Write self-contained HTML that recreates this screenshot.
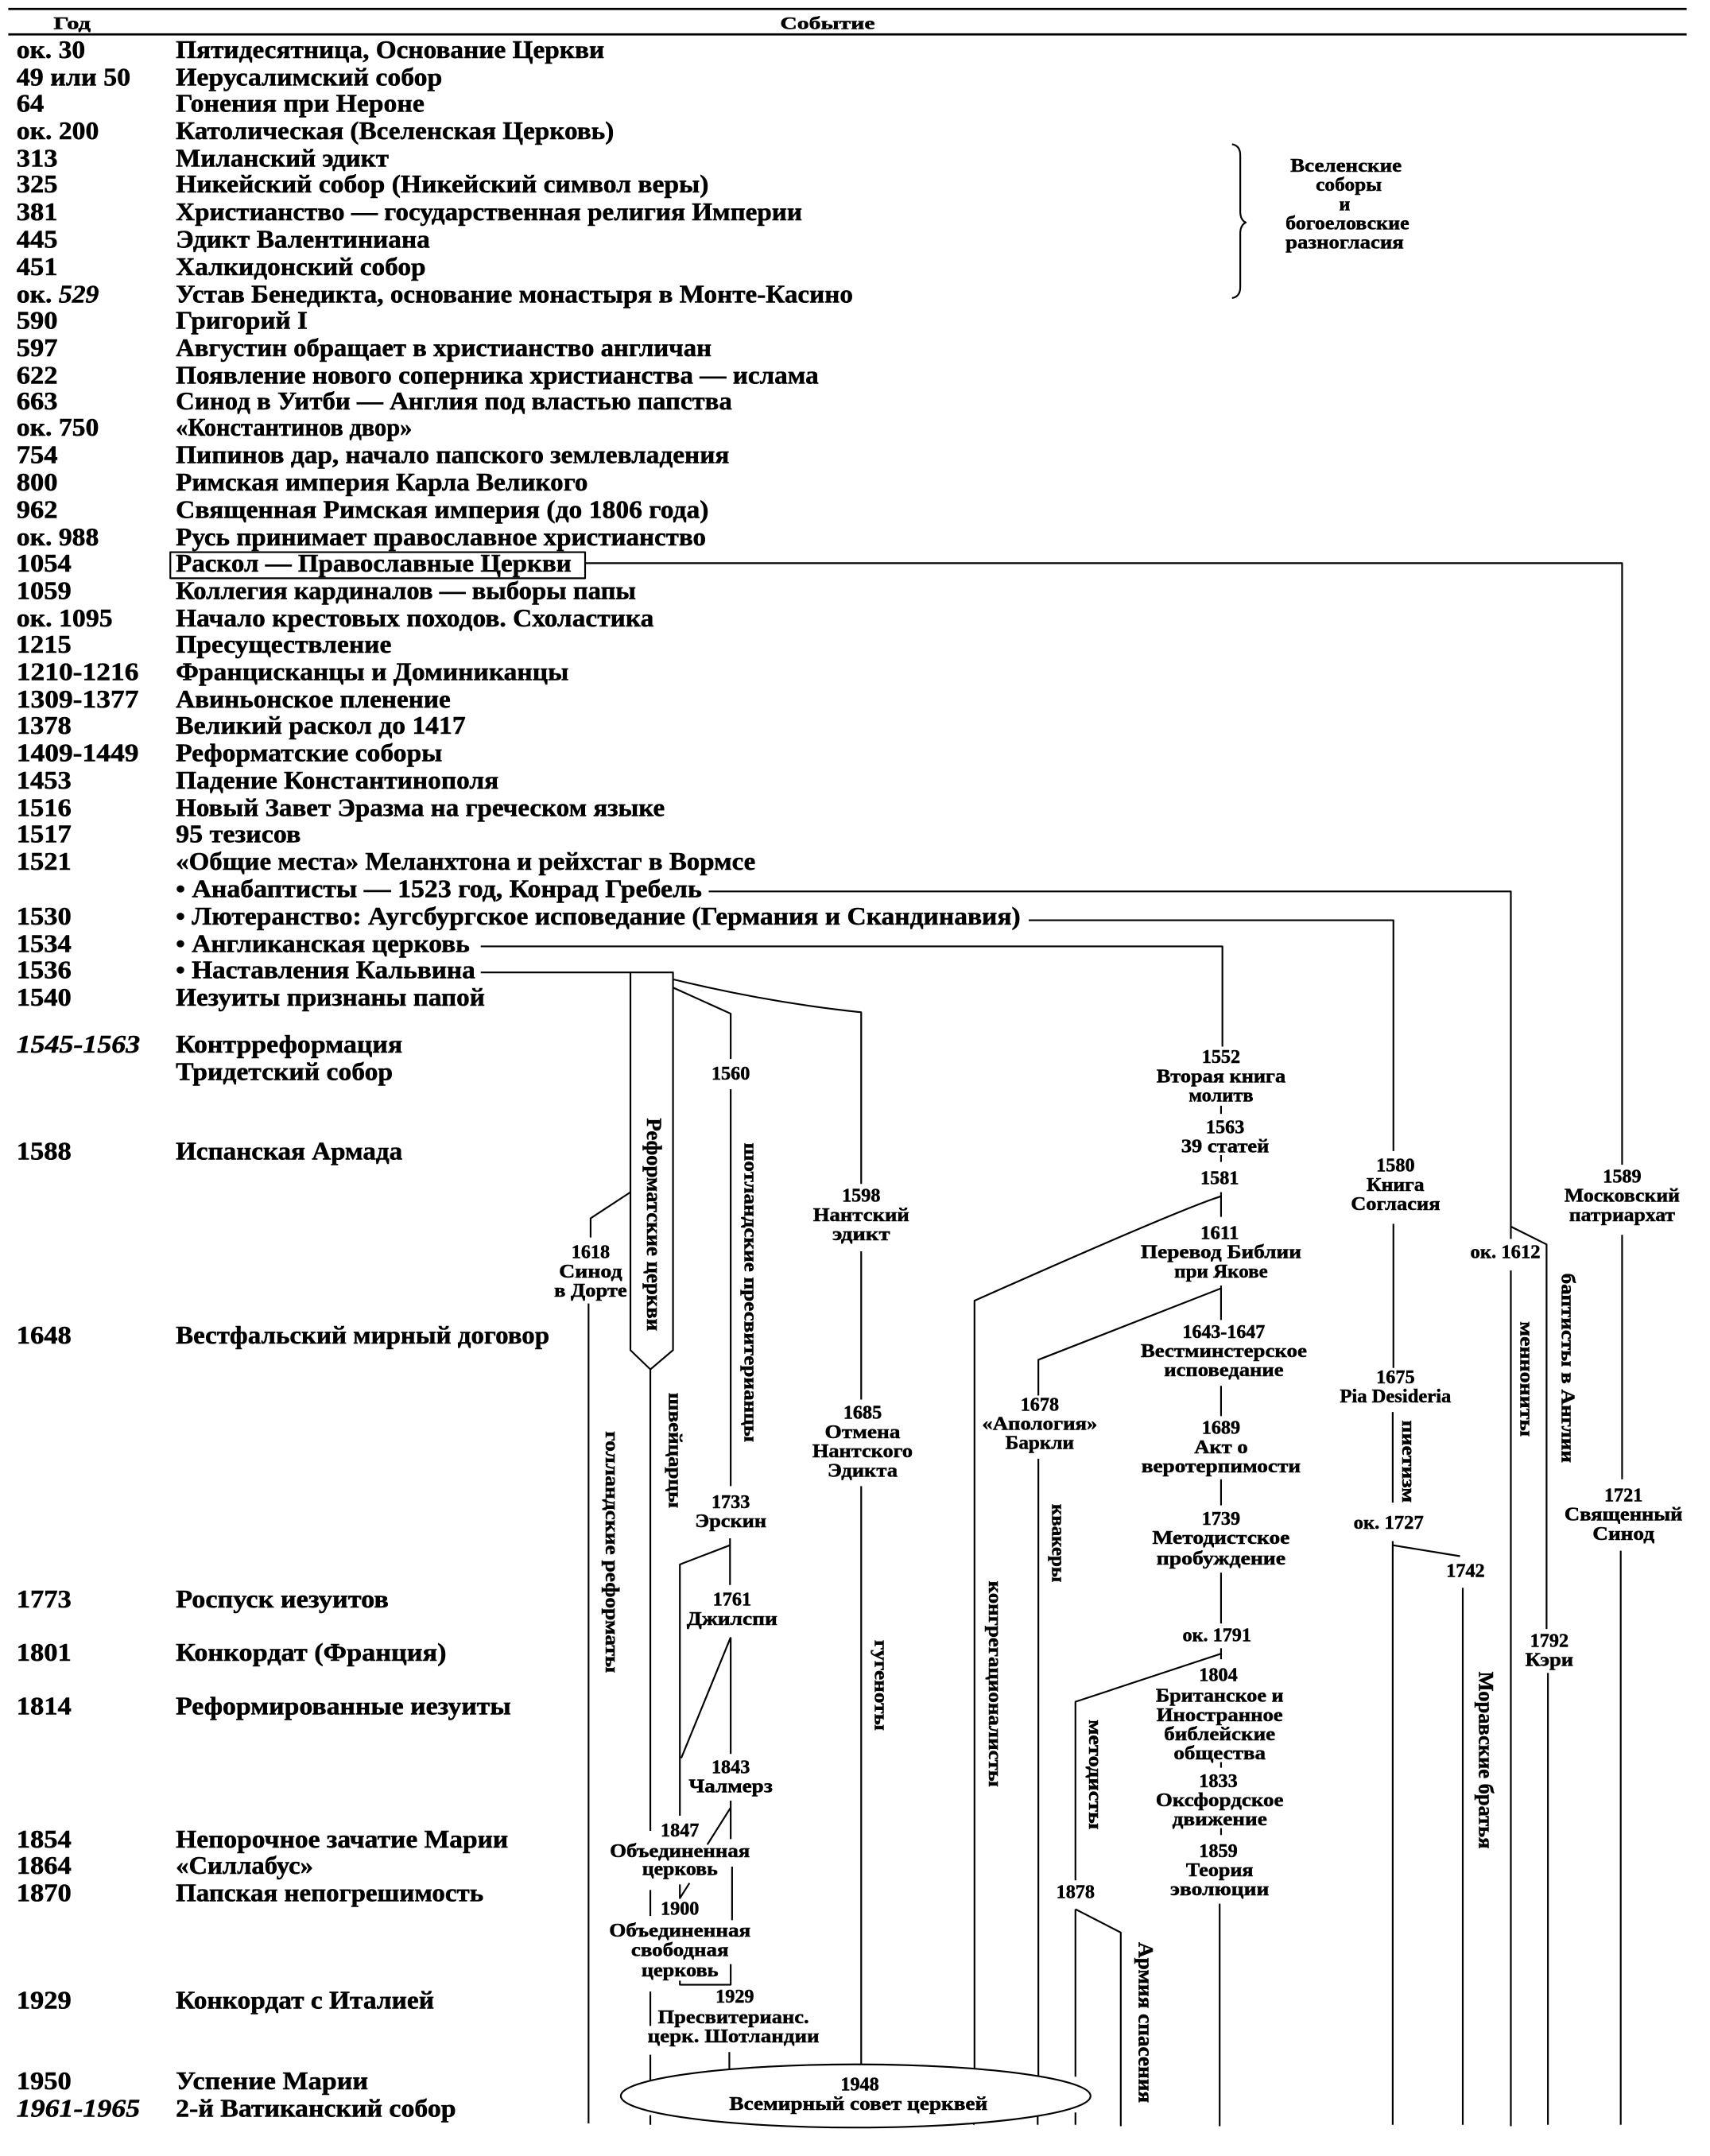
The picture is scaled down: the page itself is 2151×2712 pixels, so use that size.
<!DOCTYPE html>
<html lang="ru"><head><meta charset="utf-8"><title>Хронология</title>
<style>
html,body{margin:0;padding:0;background:#fff;width:2151px;height:2712px;overflow:hidden}
svg{display:block}
text{font-family:"Liberation Serif","DejaVu Serif",serif;font-weight:bold;fill:#000;stroke:#000;stroke-width:.3}
.m{font-size:18.5px}
.s{font-size:14px;text-anchor:middle}
.v{font-size:14px}
.h{font-size:13px}
.l{fill:none;stroke:#000;stroke-width:1.25;stroke-linejoin:round}
</style></head><body>
<svg xmlns="http://www.w3.org/2000/svg" width="2151" height="2712" viewBox="0 0 1245 1569.7" lengthAdjust="spacingAndGlyphs">
<rect width="1245" height="1570" fill="#fff"/>
<g class="l"><path d="M6 6.5H1228" stroke-width="1.6"/><path d="M6 25H1228" stroke-width="1.6"/></g>
<text class="h" x="39" y="21" textLength="27" lengthAdjust="spacingAndGlyphs">Год</text>
<text class="h" x="568" y="21" textLength="69" lengthAdjust="spacingAndGlyphs">Событие</text>

<g class="m" transform="translate(0,0.7)">
<text x="12" y="41.5" textLength="50" lengthAdjust="spacingAndGlyphs">ок. 30</text><text x="128" y="41.5" textLength="312" lengthAdjust="spacingAndGlyphs">Пятидесятница, Основание Церкви</text>
<text x="12" y="61.5" textLength="83" lengthAdjust="spacingAndGlyphs">49 или 50</text><text x="128" y="61.5" textLength="194" lengthAdjust="spacingAndGlyphs">Иерусалимский собор</text>
<text x="12" y="80.5" textLength="20" lengthAdjust="spacingAndGlyphs">64</text><text x="128" y="80.5" textLength="181" lengthAdjust="spacingAndGlyphs">Гонения при Нероне</text>
<text x="12" y="100.5" textLength="60" lengthAdjust="spacingAndGlyphs">ок. 200</text><text x="128" y="100.5" textLength="319" lengthAdjust="spacingAndGlyphs">Католическая (Вселенская Церковь)</text>
<text x="12" y="120.5" textLength="30" lengthAdjust="spacingAndGlyphs">313</text><text x="128" y="120.5" textLength="155" lengthAdjust="spacingAndGlyphs">Миланский эдикт</text>
<text x="12" y="139.5" textLength="30" lengthAdjust="spacingAndGlyphs">325</text><text x="128" y="139.5" textLength="388" lengthAdjust="spacingAndGlyphs">Никейский собор (Никейский символ веры)</text>
<text x="12" y="159.5" textLength="30" lengthAdjust="spacingAndGlyphs">381</text><text x="128" y="159.5" textLength="456" lengthAdjust="spacingAndGlyphs">Христианство — государственная религия Империи</text>
<text x="12" y="179.5" textLength="30" lengthAdjust="spacingAndGlyphs">445</text><text x="128" y="179.5" textLength="185" lengthAdjust="spacingAndGlyphs">Эдикт Валентиниана</text>
<text x="12" y="199.5" textLength="30" lengthAdjust="spacingAndGlyphs">451</text><text x="128" y="199.5" textLength="182" lengthAdjust="spacingAndGlyphs">Халкидонский собор</text>
<text x="12" y="219.5" textLength="60" lengthAdjust="spacingAndGlyphs">ок. <tspan font-style="italic">529</tspan></text><text x="128" y="219.5" textLength="493" lengthAdjust="spacingAndGlyphs">Устав Бенедикта, основание монастыря в Монте-Касино</text>
<text x="12" y="238.5" textLength="30" lengthAdjust="spacingAndGlyphs">590</text><text x="128" y="238.5" textLength="96" lengthAdjust="spacingAndGlyphs">Григорий I</text>
<text x="12" y="258.5" textLength="30" lengthAdjust="spacingAndGlyphs">597</text><text x="128" y="258.5" textLength="390" lengthAdjust="spacingAndGlyphs">Августин обращает в христианство англичан</text>
<text x="12" y="278.5" textLength="30" lengthAdjust="spacingAndGlyphs">622</text><text x="128" y="278.5" textLength="468" lengthAdjust="spacingAndGlyphs">Появление нового соперника христианства — ислама</text>
<text x="12" y="297.5" textLength="30" lengthAdjust="spacingAndGlyphs">663</text><text x="128" y="297.5" textLength="405" lengthAdjust="spacingAndGlyphs">Синод в Уитби — Англия под властью папства</text>
<text x="12" y="316.5" textLength="60" lengthAdjust="spacingAndGlyphs">ок. 750</text><text x="128" y="316.5" textLength="172" lengthAdjust="spacingAndGlyphs">«Константинов двор»</text>
<text x="12" y="336.5" textLength="30" lengthAdjust="spacingAndGlyphs">754</text><text x="128" y="336.5" textLength="403" lengthAdjust="spacingAndGlyphs">Пипинов дар, начало папского землевладения</text>
<text x="12" y="356.5" textLength="30" lengthAdjust="spacingAndGlyphs">800</text><text x="128" y="356.5" textLength="300" lengthAdjust="spacingAndGlyphs">Римская империя Карла Великого</text>
<text x="12" y="376.5" textLength="30" lengthAdjust="spacingAndGlyphs">962</text><text x="128" y="376.5" textLength="388" lengthAdjust="spacingAndGlyphs">Священная Римская империя (до 1806 года)</text>
<text x="12" y="396.5" textLength="60" lengthAdjust="spacingAndGlyphs">ок. 988</text><text x="128" y="396.5" textLength="386" lengthAdjust="spacingAndGlyphs">Русь принимает православное христианство</text>
<text x="12" y="415.5" textLength="40" lengthAdjust="spacingAndGlyphs">1054</text><text x="128" y="415.5" textLength="288" lengthAdjust="spacingAndGlyphs">Раскол — Православные Церкви</text>
<text x="12" y="435.5" textLength="40" lengthAdjust="spacingAndGlyphs">1059</text><text x="128" y="435.5" textLength="335" lengthAdjust="spacingAndGlyphs">Коллегия кардиналов — выборы папы</text>
<text x="12" y="455.5" textLength="70" lengthAdjust="spacingAndGlyphs">ок. 1095</text><text x="128" y="455.5" textLength="348" lengthAdjust="spacingAndGlyphs">Начало крестовых походов. Схоластика</text>
<text x="12" y="474.5" textLength="40" lengthAdjust="spacingAndGlyphs">1215</text><text x="128" y="474.5" textLength="157" lengthAdjust="spacingAndGlyphs">Пресуществление</text>
<text x="12" y="494.5" textLength="89" lengthAdjust="spacingAndGlyphs">1210-1216</text><text x="128" y="494.5" textLength="286" lengthAdjust="spacingAndGlyphs">Францисканцы и Доминиканцы</text>
<text x="12" y="514.5" textLength="89" lengthAdjust="spacingAndGlyphs">1309-1377</text><text x="128" y="514.5" textLength="200" lengthAdjust="spacingAndGlyphs">Авиньонское пленение</text>
<text x="12" y="533.5" textLength="40" lengthAdjust="spacingAndGlyphs">1378</text><text x="128" y="533.5" textLength="211" lengthAdjust="spacingAndGlyphs">Великий раскол до 1417</text>
<text x="12" y="553.5" textLength="89" lengthAdjust="spacingAndGlyphs">1409-1449</text><text x="128" y="553.5" textLength="194" lengthAdjust="spacingAndGlyphs">Реформатские соборы</text>
<text x="12" y="573.5" textLength="40" lengthAdjust="spacingAndGlyphs">1453</text><text x="128" y="573.5" textLength="235" lengthAdjust="spacingAndGlyphs">Падение Константинополя</text>
<text x="12" y="593.5" textLength="40" lengthAdjust="spacingAndGlyphs">1516</text><text x="128" y="593.5" textLength="356" lengthAdjust="spacingAndGlyphs">Новый Завет Эразма на греческом языке</text>
<text x="12" y="612.5" textLength="40" lengthAdjust="spacingAndGlyphs">1517</text><text x="128" y="612.5" textLength="91" lengthAdjust="spacingAndGlyphs">95 тезисов</text>
<text x="12" y="632.5" textLength="40" lengthAdjust="spacingAndGlyphs">1521</text><text x="128" y="632.5" textLength="422" lengthAdjust="spacingAndGlyphs">«Общие места» Меланхтона и рейхстаг в Вормсе</text>
<text x="128" y="652.5" textLength="383" lengthAdjust="spacingAndGlyphs">• Анабаптисты — 1523 год, Конрад Гребель</text>
<text x="12" y="672.5" textLength="40" lengthAdjust="spacingAndGlyphs">1530</text><text x="128" y="672.5" textLength="615" lengthAdjust="spacingAndGlyphs">• Лютеранство: Аугсбургское исповедание (Германия и Скандинавия)</text>
<text x="12" y="692.5" textLength="40" lengthAdjust="spacingAndGlyphs">1534</text><text x="128" y="692.5" textLength="214" lengthAdjust="spacingAndGlyphs">• Англиканская церковь</text>
<text x="12" y="711.5" textLength="40" lengthAdjust="spacingAndGlyphs">1536</text><text x="128" y="711.5" textLength="218" lengthAdjust="spacingAndGlyphs">• Наставления Кальвина</text>
<text x="12" y="731.5" textLength="40" lengthAdjust="spacingAndGlyphs">1540</text><text x="128" y="731.5" textLength="225" lengthAdjust="spacingAndGlyphs">Иезуиты признаны папой</text>
<text x="12" y="765.5" textLength="90" lengthAdjust="spacingAndGlyphs" font-style="italic">1545-1563</text><text x="128" y="765.5" textLength="165" lengthAdjust="spacingAndGlyphs">Контрреформация</text>
<text x="128" y="785.5" textLength="158" lengthAdjust="spacingAndGlyphs">Тридетский собор</text>
<text x="12" y="843.5" textLength="40" lengthAdjust="spacingAndGlyphs">1588</text><text x="128" y="843.5" textLength="165" lengthAdjust="spacingAndGlyphs">Испанская Армада</text>
<text x="12" y="977.5" textLength="40" lengthAdjust="spacingAndGlyphs">1648</text><text x="128" y="977.5" textLength="272" lengthAdjust="spacingAndGlyphs">Вестфальский мирный договор</text>
<text x="12" y="1169.5" textLength="40" lengthAdjust="spacingAndGlyphs">1773</text><text x="128" y="1169.5" textLength="155" lengthAdjust="spacingAndGlyphs">Роспуск иезуитов</text>
<text x="12" y="1208.5" textLength="40" lengthAdjust="spacingAndGlyphs">1801</text><text x="128" y="1208.5" textLength="197" lengthAdjust="spacingAndGlyphs">Конкордат (Франция)</text>
<text x="12" y="1247.5" textLength="40" lengthAdjust="spacingAndGlyphs">1814</text><text x="128" y="1247.5" textLength="244" lengthAdjust="spacingAndGlyphs">Реформированные иезуиты</text>
<text x="12" y="1344.5" textLength="40" lengthAdjust="spacingAndGlyphs">1854</text><text x="128" y="1344.5" textLength="242" lengthAdjust="spacingAndGlyphs">Непорочное зачатие Марии</text>
<text x="12" y="1363.5" textLength="40" lengthAdjust="spacingAndGlyphs">1864</text><text x="128" y="1363.5" textLength="100" lengthAdjust="spacingAndGlyphs">«Силлабус»</text>
<text x="12" y="1383.5" textLength="40" lengthAdjust="spacingAndGlyphs">1870</text><text x="128" y="1383.5" textLength="224" lengthAdjust="spacingAndGlyphs">Папская непогрешимость</text>
<text x="12" y="1461.5" textLength="40" lengthAdjust="spacingAndGlyphs">1929</text><text x="128" y="1461.5" textLength="188" lengthAdjust="spacingAndGlyphs">Конкордат с Италией</text>
<text x="12" y="1520.5" textLength="40" lengthAdjust="spacingAndGlyphs">1950</text><text x="128" y="1520.5" textLength="140" lengthAdjust="spacingAndGlyphs">Успение Марии</text>
<text x="12" y="1540.5" textLength="90" lengthAdjust="spacingAndGlyphs" font-style="italic">1961-1965</text><text x="128" y="1540.5" textLength="204" lengthAdjust="spacingAndGlyphs">2-й Ватиканский собор</text>
</g>

<!-- lines -->
<g class="l">
<rect x="124" y="402" width="302" height="19"/>
<path d="M897 105Q903 106 903 113V154Q903 160 907 162Q903 164 903 170V209Q903 216 897 217"/>
<!-- 1054 -->
<path d="M426 410H1181V848M1181 899V1077M1180 1129V1547"/>
<!-- anabaptists / mennonites / baptists -->
<path d="M516 649H1100V902M1100 925V1548M1100 893L1126 906V1186M1127 1218V1547"/>
<!-- lutheran -->
<path d="M749 670H1014.5V838M1014.5 891V996M1014 1028V1094M1014 1122V1547M1014 1125L1063 1133M1065 1156V1547"/>
<!-- anglican -->
<path d="M350 689H890V762M889 805V811M889 841V846M889 868V886M889 871Q860 880 709.500 947V1508M889 936V961M889 938L756 990V1016M756 1062V1511M755.500 1530V1547M889 1009V1031M889 1077V1096M889 1145V1182M889 1200V1208M889 1204L783 1239V1369M783 1390V1512M783 1390L816 1407V1548M783 1538V1547M889 1283V1287M889 1331V1336M888 1386V1548"/>
<!-- Reformed -->
<path d="M350 708H490V983L473.500 997L459 983V708M473.500 997V1333M473.500 1376V1395M473.500 1450V1475M473.500 1496V1517M473.500 1540V1547"/>
<path d="M490 713Q560 730 627 737V862M627 911V1019M627 1082V1506M490 719L532 738V771M532 793V1082M531.500 1120V1154M531.500 1125L495 1139V1322M532 1192V1277M532 1192L496 1280M532 1311V1339M532 1316L515 1343M533 1359V1398M502 1371L495 1382L495 1372M495 1442V1445H532V1430M531 1494V1509"/>
<path d="M459 868L430 887V901M428.500 949V1546M709 1540V1547"/>
<ellipse cx="623" cy="1526" rx="171" ry="23" fill="#fff"/>
</g>

<g class="s">
<text x="980" y="125" textLength="81" lengthAdjust="spacingAndGlyphs">Вселенские</text>
<text x="982" y="139" textLength="48" lengthAdjust="spacingAndGlyphs">соборы</text>
<text x="979" y="153" textLength="8" lengthAdjust="spacingAndGlyphs">и</text>
<text x="981" y="167" textLength="90" lengthAdjust="spacingAndGlyphs">богоеловские</text>
<text x="979" y="181" textLength="86" lengthAdjust="spacingAndGlyphs">разногласия</text>

<text x="532" y="786" textLength="28" lengthAdjust="spacingAndGlyphs">1560</text>
<text x="627" y="875" textLength="28" lengthAdjust="spacingAndGlyphs">1598</text><text x="627" y="889" textLength="70" lengthAdjust="spacingAndGlyphs">Нантский</text><text x="627" y="903" textLength="42" lengthAdjust="spacingAndGlyphs">эдикт</text>
<text x="628" y="1033" textLength="28" lengthAdjust="spacingAndGlyphs">1685</text><text x="628" y="1047" textLength="55" lengthAdjust="spacingAndGlyphs">Отмена</text><text x="628" y="1061" textLength="73" lengthAdjust="spacingAndGlyphs">Нантского</text><text x="628" y="1075" textLength="51" lengthAdjust="spacingAndGlyphs">Эдикта</text>
<text x="430" y="916" textLength="28" lengthAdjust="spacingAndGlyphs">1618</text><text x="430" y="930" textLength="46" lengthAdjust="spacingAndGlyphs">Синод</text><text x="430" y="944" textLength="53" lengthAdjust="spacingAndGlyphs">в Дорте</text>
<text x="757" y="1027" textLength="28" lengthAdjust="spacingAndGlyphs">1678</text><text x="757" y="1041" textLength="84" lengthAdjust="spacingAndGlyphs">«Апология»</text><text x="757" y="1055" textLength="50" lengthAdjust="spacingAndGlyphs">Баркли</text>
<text x="889" y="774" textLength="28" lengthAdjust="spacingAndGlyphs">1552</text><text x="889" y="788" textLength="94" lengthAdjust="spacingAndGlyphs">Вторая книга</text><text x="889" y="802" textLength="47" lengthAdjust="spacingAndGlyphs">молитв</text>
<text x="892" y="825" textLength="28" lengthAdjust="spacingAndGlyphs">1563</text><text x="892" y="839" textLength="64" lengthAdjust="spacingAndGlyphs">39 статей</text>
<text x="888" y="862" textLength="28" lengthAdjust="spacingAndGlyphs">1581</text>
<text x="888" y="902" textLength="28" lengthAdjust="spacingAndGlyphs">1611</text><text x="889" y="916" textLength="117" lengthAdjust="spacingAndGlyphs">Перевод Библии</text><text x="889" y="930" textLength="68" lengthAdjust="spacingAndGlyphs">при Якове</text>
<text x="891" y="974" textLength="60" lengthAdjust="spacingAndGlyphs">1643-1647</text><text x="891" y="988" textLength="121" lengthAdjust="spacingAndGlyphs">Вестминстерское</text><text x="891" y="1002" textLength="87" lengthAdjust="spacingAndGlyphs">исповедание</text>
<text x="889" y="1044" textLength="28" lengthAdjust="spacingAndGlyphs">1689</text><text x="889" y="1058" textLength="39" lengthAdjust="spacingAndGlyphs">Акт о</text><text x="889" y="1072" textLength="116" lengthAdjust="spacingAndGlyphs">веротерпимости</text>
<text x="889" y="1110" textLength="28" lengthAdjust="spacingAndGlyphs">1739</text><text x="889" y="1124" textLength="100" lengthAdjust="spacingAndGlyphs">Методистское</text><text x="889" y="1139" textLength="94" lengthAdjust="spacingAndGlyphs">пробуждение</text>
<text x="886" y="1195" textLength="50" lengthAdjust="spacingAndGlyphs">ок. 1791</text>
<text x="887" y="1224" textLength="28" lengthAdjust="spacingAndGlyphs">1804</text><text x="888" y="1239" textLength="93" lengthAdjust="spacingAndGlyphs">Британское и</text><text x="888" y="1253" textLength="92" lengthAdjust="spacingAndGlyphs">Иностранное</text><text x="888" y="1267" textLength="81" lengthAdjust="spacingAndGlyphs">библейские</text><text x="888" y="1281" textLength="67" lengthAdjust="spacingAndGlyphs">общества</text>
<text x="887" y="1301" textLength="28" lengthAdjust="spacingAndGlyphs">1833</text><text x="888" y="1315" textLength="93" lengthAdjust="spacingAndGlyphs">Оксфордское</text><text x="888" y="1329" textLength="69" lengthAdjust="spacingAndGlyphs">движение</text>
<text x="887" y="1352" textLength="28" lengthAdjust="spacingAndGlyphs">1859</text><text x="888" y="1366" textLength="49" lengthAdjust="spacingAndGlyphs">Теория</text><text x="888" y="1380" textLength="72" lengthAdjust="spacingAndGlyphs">эволюции</text>
<text x="1016" y="853" textLength="28" lengthAdjust="spacingAndGlyphs">1580</text><text x="1016" y="867" textLength="42" lengthAdjust="spacingAndGlyphs">Книга</text><text x="1016" y="881" textLength="65" lengthAdjust="spacingAndGlyphs">Согласия</text>
<text x="1016" y="1007" textLength="28" lengthAdjust="spacingAndGlyphs">1675</text><text x="1016" y="1021" textLength="81" lengthAdjust="spacingAndGlyphs">Pia Desideria</text>
<text x="1011" y="1113" textLength="51" lengthAdjust="spacingAndGlyphs">ок. 1727</text>
<text x="1067" y="1148" textLength="28" lengthAdjust="spacingAndGlyphs">1742</text>
<text x="1096" y="916" textLength="51" lengthAdjust="spacingAndGlyphs">ок. 1612</text>
<text x="1128" y="1199" textLength="28" lengthAdjust="spacingAndGlyphs">1792</text><text x="1128" y="1213" textLength="35" lengthAdjust="spacingAndGlyphs">Кэри</text>
<text x="1181" y="861" textLength="28" lengthAdjust="spacingAndGlyphs">1589</text><text x="1181" y="875" textLength="84" lengthAdjust="spacingAndGlyphs">Московский</text><text x="1181" y="889" textLength="77" lengthAdjust="spacingAndGlyphs">патриархат</text>
<text x="1182" y="1093" textLength="28" lengthAdjust="spacingAndGlyphs">1721</text><text x="1182" y="1107" textLength="86" lengthAdjust="spacingAndGlyphs">Священный</text><text x="1182" y="1121" textLength="45" lengthAdjust="spacingAndGlyphs">Синод</text>
<text x="532" y="1098" textLength="28" lengthAdjust="spacingAndGlyphs">1733</text><text x="532" y="1112" textLength="52" lengthAdjust="spacingAndGlyphs">Эрскин</text>
<text x="533" y="1169" textLength="28" lengthAdjust="spacingAndGlyphs">1761</text><text x="533" y="1183" textLength="66" lengthAdjust="spacingAndGlyphs">Джилспи</text>
<text x="532" y="1291" textLength="28" lengthAdjust="spacingAndGlyphs">1843</text><text x="532" y="1305" textLength="61" lengthAdjust="spacingAndGlyphs">Чалмерз</text>
<text x="495" y="1337" textLength="28" lengthAdjust="spacingAndGlyphs">1847</text><text x="495" y="1352" textLength="102" lengthAdjust="spacingAndGlyphs">Объединенная</text><text x="495" y="1365" textLength="55" lengthAdjust="spacingAndGlyphs">церковь</text>
<text x="495" y="1394" textLength="28" lengthAdjust="spacingAndGlyphs">1900</text><text x="495" y="1410" textLength="103" lengthAdjust="spacingAndGlyphs">Объединенная</text><text x="495" y="1424" textLength="71" lengthAdjust="spacingAndGlyphs">свободная</text><text x="495" y="1439" textLength="56" lengthAdjust="spacingAndGlyphs">церковь</text>
<text x="535" y="1458" textLength="28" lengthAdjust="spacingAndGlyphs">1929</text><text x="534" y="1473" textLength="110" lengthAdjust="spacingAndGlyphs">Пресвитерианс.</text><text x="534" y="1487" textLength="125" lengthAdjust="spacingAndGlyphs">церк. Шотландии</text>
<text x="783" y="1382" textLength="28" lengthAdjust="spacingAndGlyphs">1878</text>
<text x="626" y="1522" textLength="28" lengthAdjust="spacingAndGlyphs">1948</text><text x="625" y="1536" textLength="188" lengthAdjust="spacingAndGlyphs">Всемирный совет церквей</text>
</g>

<g class="v">
<text transform="translate(471,814) rotate(90)" textLength="155" lengthAdjust="spacingAndGlyphs" style="font-size:15px">Реформатские церкви</text>
<text transform="translate(441,1042) rotate(90)" textLength="176" lengthAdjust="spacingAndGlyphs">голландские реформаты</text>
<text transform="translate(487,1014) rotate(90)" textLength="84" lengthAdjust="spacingAndGlyphs">швейцарцы</text>
<text transform="translate(542,832) rotate(90)" textLength="218" lengthAdjust="spacingAndGlyphs">шотландские пресвитерианцы</text>
<text transform="translate(637,1194) rotate(90)" textLength="66" lengthAdjust="spacingAndGlyphs">гугеноты</text>
<text transform="translate(720,1151) rotate(90)" textLength="150" lengthAdjust="spacingAndGlyphs">конгрегационалисты</text>
<text transform="translate(766,1095) rotate(90)" textLength="57" lengthAdjust="spacingAndGlyphs">квакеры</text>
<text transform="translate(793,1252) rotate(90)" textLength="80" lengthAdjust="spacingAndGlyphs">методисты</text>
<text transform="translate(829,1414) rotate(90)" textLength="117" lengthAdjust="spacingAndGlyphs" style="font-size:15px">Армия спасения</text>
<text transform="translate(1021,1034) rotate(90)" textLength="60" lengthAdjust="spacingAndGlyphs">пиетизм</text>
<text transform="translate(1077,1217) rotate(90)" textLength="129" lengthAdjust="spacingAndGlyphs" style="font-size:15px">Моравские братья</text>
<text transform="translate(1107,962) rotate(90)" textLength="84" lengthAdjust="spacingAndGlyphs">меннониты</text>
<text transform="translate(1137,927) rotate(90)" textLength="138" lengthAdjust="spacingAndGlyphs">баптисты в Англии</text>
</g>
</svg>
</body></html>
